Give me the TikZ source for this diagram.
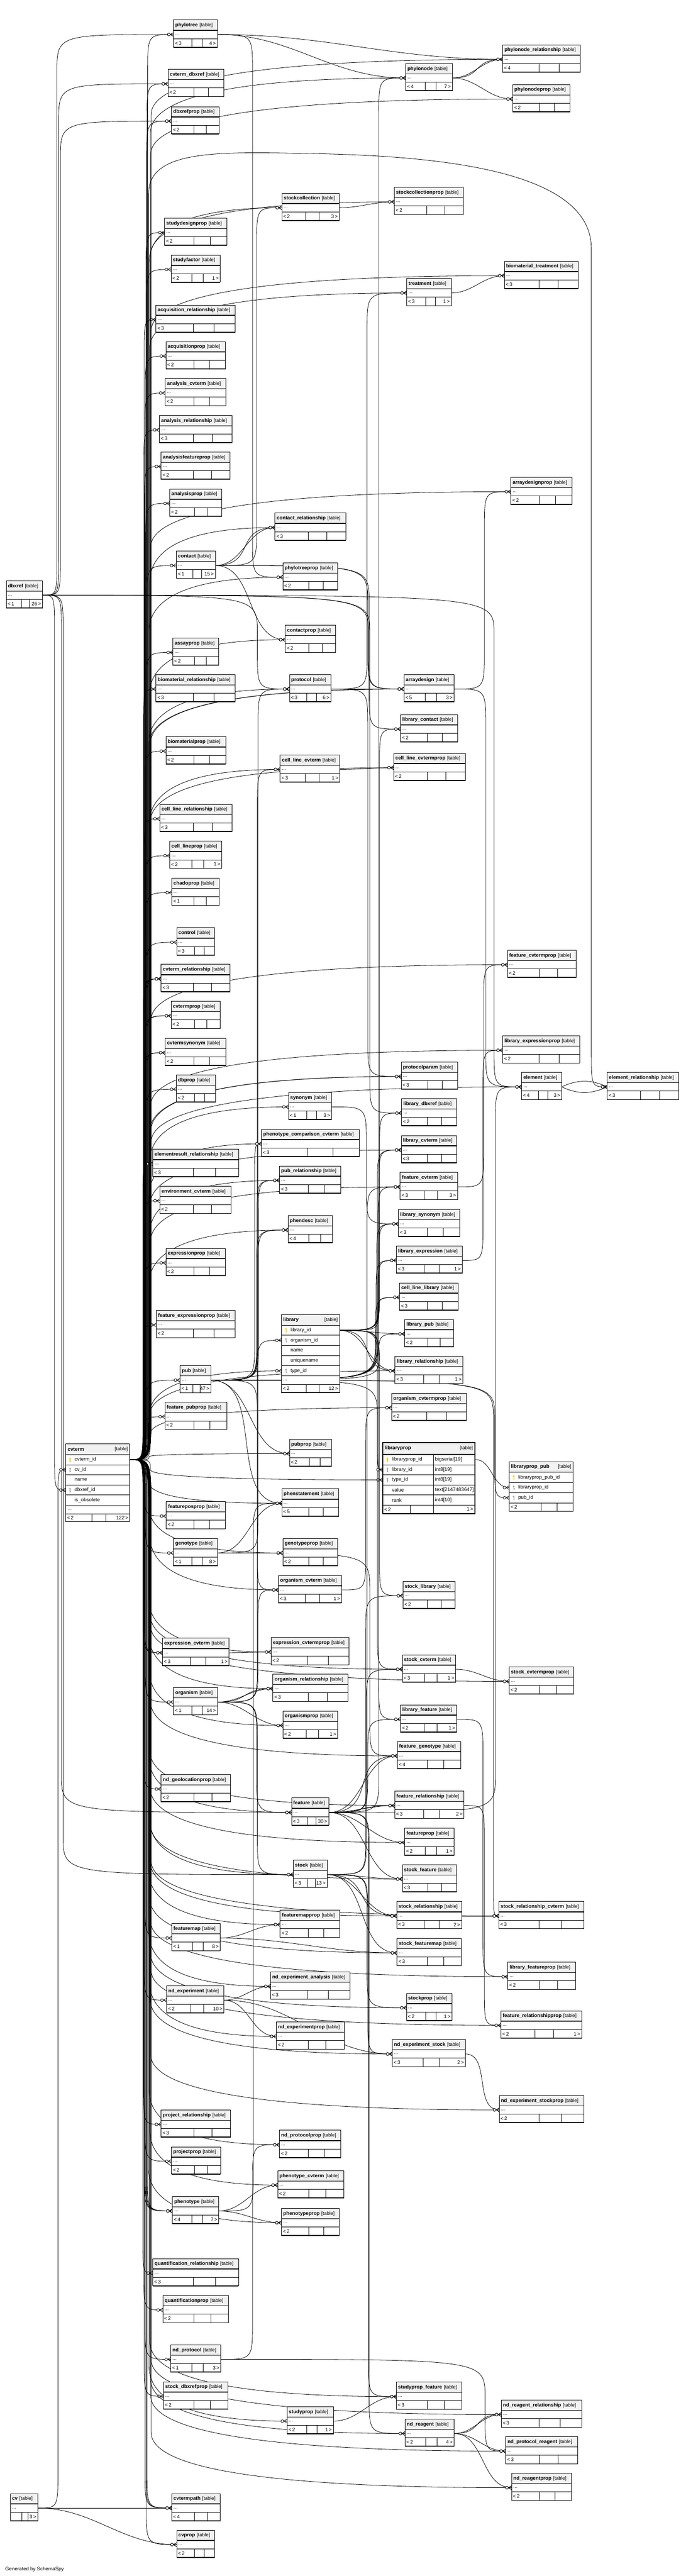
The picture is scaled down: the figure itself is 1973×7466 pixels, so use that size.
\documentclass[tikz,border=0pt]{standalone}
\usepackage{fontspec}
\setmainfont{Liberation Sans}
\usetikzlibrary{calc}
\definecolor{hdrgray}{RGB}{242,242,242}
\definecolor{pkyellow}{RGB}{238,205,0}
\definecolor{fkgray}{RGB}{165,165,165}
\pgfdeclarelayer{bg}
\pgfdeclarelayer{edges}
\pgfsetlayers{bg,edges,main}
\tikzset{
  fkline/.style={line width=1.2pt,black},
  cellline/.style={line width=1.1pt,black},
  hdrline/.style={line width=2pt,black},
  botline/.style={line width=2.4pt,black},
  txt/.style={anchor=west,inner sep=0pt},
  txe/.style={anchor=east,inner sep=0pt}
}
\newcommand\tbfont{\fontsize{14.5}{17}\selectfont}
\newcommand\tbsmall{\fontsize{14}{16}\selectfont}
% compact table: name, x, y, width, parents, children
\newcommand\schtbl[6]{%
  \if\relax\detokenize{#6}\relax\def\tbsa{0.47}\def\tbsb{0.73}\else\def\tbsa{0.42}\def\tbsb{0.65}\fi
  \fill[white] (#2,#3) rectangle ++(#4,79);
  \fill[hdrgray] (#2,#3) rectangle ++(#4,30);
  \draw[cellline] (#2,#3) rectangle ++(#4,79);
  \draw[hdrline] (#2,#3+30) -- ++(#4,0);
  \draw[cellline] (#2,#3+54) -- ++(#4,0);
  \draw[botline] (#2,#3+79) -- ++(#4,0);
  \draw[cellline] ({#2+\tbsa*#4},#3+54) -- ++(0,25);
  \draw[cellline] ({#2+\tbsb*#4},#3+54) -- ++(0,25);
  \node[txt] at (#2+5,#3+15.5) {\tbfont\textbf{\detokenize{#1}}\hspace{5pt}{\tbsmall[table]}};
  \node[txt] at (#2+5,#3+43) {\tbsmall...};
  \if\relax\detokenize{#5}\relax\else\node[txt] at (#2+4,#3+67) {\tbfont<\,#5};\fi
  \if\relax\detokenize{#6}\relax\else\node[txe] at (#2+#4-4,#3+67) {\tbfont#6\,>};\fi
  \coordinate (#1-w) at (#2,#3+42);
  \coordinate (#1-e) at (#2+#4,#3+42);
}
\newcommand\schkey[3]{%
  \fill[#3] (#1,#2-3.5) circle[radius=2.8pt];
  \fill[#3] (#1-1,#2-3.5) rectangle (#1+1,#2+7);
  \fill[#3] (#1+1,#2+3) rectangle (#1+3.5,#2+4.6);}
% crow's foot with circle at child port
\newcommand\mk[1]{%
  \draw[fkline] (#1) ++(-9,0) -- ++(9,-5.5);
  \draw[fkline] (#1) ++(-9,0) -- ++(9,5.5);
  \draw[fkline,fill=white] (#1) ++(-13.5,0) circle[radius=4pt];}
% edge routed through a vertical lane, short hook into the child
\newcommand\fk[3]{%
  \draw[fkline] let \p1=(#1),\p2=(#2),\p3=(#3,0),
     \n1={min(110,abs(\y2-\y1)/2)*sign(\y2-\y1)} in
     (\p1) .. controls (\x3,\y1) .. (\x3,{\y1+\n1}) -- (\x3,{\y2-\n1}) .. controls (\x3,\y2) .. (\p2);
  \mk{#2}}
% edge routed through a vertical lane, long sweep into a distant child
\newcommand\fkb[3]{%
  \draw[fkline] let \p1=(#1),\p2=(#2),\p3=(#3,0),
     \n1={min(160,abs(\y2-\y1)/2)*sign(\y2-\y1)},
     \n2={(\x2-\x3)*0.45} in
     (\p1) .. controls (\x3,\y1) .. (\x3,{\y1+\n1}) -- (\x3,{\y2-\n1})
     .. controls (\x3,{\y2-0.15*\n1}) and ({\x2-\n2},\y2) .. (\p2);
  \mk{#2}}
% direct edge
\newcommand\fd[2]{\draw[fkline] (#1) to[out=0,in=180] (#2); \mk{#2}}
\newcommand\fdl[3]{\draw[fkline] (#1) to[out=0,in=180,looseness=#3] (#2); \mk{#2}}

\begin{document}
\begin{tikzpicture}[x=1pt,y=-1pt]
\useasboundingbox (0,0) rectangle (1973,7466);
\begin{pgfonlayer}{bg}
\fill[white] (0,0) rectangle (1973,7466);
\end{pgfonlayer}

% ---------------- left column
\schtbl{phylotree}{503}{58}{127}{3}{4}
\schtbl{cvterm_dbxref}{487}{201}{161}{2}{}
\schtbl{dbxrefprop}{497}{309}{138}{2}{}
\schtbl{studydesignprop}{477}{632}{181}{2}{}
\schtbl{studyfactor}{496}{739}{142}{2}{1}
\schtbl{acquisition_relationship}{452}{884}{230}{3}{}
\schtbl{acquisitionprop}{481}{990}{172}{2}{}
\schtbl{analysis_cvterm}{479}{1097}{175}{2}{}
\schtbl{analysis_relationship}{462}{1204}{210}{3}{}
\schtbl{analysisfeatureprop}{467}{1310}{200}{2}{}
\schtbl{analysisprop}{492}{1417}{151}{2}{}
\schtbl{contact}{511}{1597}{113}{1}{15}
\schtbl{dbxref}{18}{1683}{105}{1}{26}
\schtbl{assayprop}{501}{1849}{132}{2}{}
\schtbl{biomaterial_relationship}{452}{1955}{230}{3}{}
\schtbl{biomaterialprop}{481}{2135}{173}{2}{}
\schtbl{cell_line_relationship}{463}{2331}{209}{3}{}
\schtbl{cell_lineprop}{492}{2438}{151}{2}{1}
\schtbl{chadoprop}{498}{2545}{137}{1}{}
\schtbl{control}{512}{2689}{110}{3}{}
\schtbl{cvterm_relationship}{467}{2795}{200}{3}{}
\schtbl{cvtermprop}{496}{2902}{142}{2}{}
\schtbl{cvtermsynonym}{479}{3009}{175}{2}{}
\schtbl{dbprop}{511}{3115}{113}{2}{}
\schtbl{elementresult_relationship}{443}{3331}{249}{3}{}
\schtbl{environment_cvterm}{463}{3438}{206}{2}{}
\schtbl{expressionprop}{481}{3618}{172}{2}{}
\schtbl{feature_expressionprop}{453}{3798}{229}{2}{}
\schtbl{pub}{522}{3958}{89}{1}{47}
\schtbl{feature_pubprop}{478}{4064}{179}{2}{}
\schtbl{featureposprop}{482}{4352}{171}{2}{}
\schtbl{genotype}{503}{4459}{127}{1}{8}
\schtbl{expression_cvterm}{471}{4748}{193}{3}{1}
\schtbl{organism}{503}{4891}{127}{1}{14}
\schtbl{nd_geolocationprop}{467}{5143}{201}{2}{}
\schtbl{featuremap}{498}{5575}{140}{1}{8}
\schtbl{nd_experiment}{483}{5755}{166}{2}{10}
\schtbl{project_relationship}{467}{6115}{201}{3}{}
\schtbl{projectprop}{497}{6222}{142}{2}{}
\schtbl{phenotype}{500}{6366}{134}{4}{7}
\schtbl{quantification_relationship}{443}{6546}{249}{3}{}
\schtbl{quantificationprop}{472}{6653}{190}{2}{}
\schtbl{nd_protocol}{495}{6796}{145}{1}{3}
\schtbl{stock_dbxrefprop}{474}{6903}{186}{2}{}
\schtbl{cv}{30}{7227}{79}{}{3}
\schtbl{cvtermpath}{498}{7227}{140}{4}{}
\schtbl{cvprop}{512}{7333}{109}{2}{}
% ---------------- middle column
\schtbl{stockcollection}{817}{560}{166}{2}{3}
\schtbl{contact_relationship}{797}{1487}{205}{3}{}
\schtbl{phylotreeprop}{820}{1631}{159}{2}{}
\schtbl{contactprop}{827}{1812}{146}{2}{}
\schtbl{protocol}{839}{1955}{120}{3}{6}
\schtbl{cell_line_cvterm}{812}{2188}{173}{3}{1}
\schtbl{synonym}{836}{3166}{125}{1}{3}
\schtbl{phenotype_comparison_cvterm}{758}{3273}{283}{3}{}
\schtbl{pub_relationship}{810}{3379}{178}{3}{}
\schtbl{phendesc}{835}{3523}{129}{4}{}
\schtbl{pubprop}{839}{4171}{122}{2}{}
\schtbl{phenstatement}{817}{4315}{165}{5}{}
\schtbl{genotypeprop}{820}{4459}{159}{2}{}
\schtbl{organism_cvterm}{807}{4566}{183}{3}{1}
\schtbl{expression_cvtermprop}{786}{4746}{226}{2}{}
\schtbl{organism_relationship}{791}{4852}{217}{3}{}
\schtbl{organismprop}{820}{4959}{159}{2}{1}
\schtbl{feature}{845}{5211}{108}{3}{30}
\schtbl{stock}{850}{5391}{98}{3}{13}
\schtbl{featuremapprop}{812}{5536}{173}{2}{}
\schtbl{nd_experiment_analysis}{784}{5715}{230}{3}{}
\schtbl{nd_experimentprop}{801}{5860}{197}{2}{}
\schtbl{nd_protocolprop}{810}{6174}{178}{2}{}
\schtbl{phenotype_cvterm}{805}{6291}{191}{2}{}
\schtbl{phenotypeprop}{816}{6400}{167}{2}{}
\schtbl{studyprop}{832}{6975}{134}{2}{1}
% ---------------- third column
\schtbl{phylonode}{1176}{184}{135}{4}{7}
\schtbl{stockcollectionprop}{1143}{543}{200}{2}{}
\schtbl{treatment}{1179}{807}{129}{3}{1}
\schtbl{arraydesign}{1171}{1955}{145}{5}{3}
\schtbl{library_contact}{1161}{2071}{165}{2}{}
\schtbl{cell_line_cvtermprop}{1141}{2183}{208}{2}{}
\schtbl{protocolparam}{1163}{3078}{163}{3}{}
\schtbl{library_dbxref}{1164}{3184}{159}{2}{}
\schtbl{library_cvterm}{1163}{3291}{161}{3}{}
\schtbl{feature_cvterm}{1160}{3398}{166}{3}{3}
\schtbl{library_synonym}{1155}{3505}{178}{3}{}
\schtbl{library_expression}{1149}{3611}{191}{3}{1}
\schtbl{cell_line_library}{1158}{3718}{170}{3}{}
\schtbl{library_pub}{1173}{3824}{141}{2}{}
\schtbl{library_relationship}{1145}{3931}{197}{3}{1}
\schtbl{organism_cvtermprop}{1135}{4038}{217}{2}{}
\schtbl{stock_library}{1168}{4583}{151}{2}{}
\schtbl{stock_cvterm}{1166}{4796}{155}{3}{1}
\schtbl{library_feature}{1161}{4941}{163}{2}{1}
\schtbl{feature_genotype}{1152}{5047}{184}{4}{}
\schtbl{feature_relationship}{1144}{5191}{201}{3}{2}
\schtbl{featureprop}{1173}{5298}{143}{2}{1}
\schtbl{stock_feature}{1166}{5404}{157}{3}{}
\schtbl{stock_relationship}{1150}{5511}{188}{3}{2}
\schtbl{stock_featuremap}{1151}{5618}{186}{3}{}
\schtbl{stockprop}{1178}{5777}{132}{2}{1}
\schtbl{nd_experiment_stock}{1137}{5911}{212}{3}{2}
\schtbl{studyprop_feature}{1149}{6904}{189}{3}{}
\schtbl{nd_reagent}{1174}{7011}{142}{2}{4}
% ---------------- fourth column
\schtbl{phylonode_relationship}{1457}{130}{225}{4}{}
\schtbl{phylonodeprop}{1486}{245}{166}{2}{}
\schtbl{biomaterial_treatment}{1462}{757}{214}{3}{}
\schtbl{arraydesignprop}{1481}{1383}{177}{2}{}
\schtbl{feature_cvtermprop}{1471}{2754}{199}{2}{}
\schtbl{library_expressionprop}{1457}{3002}{224}{2}{}
\schtbl{element}{1512}{3108}{116}{4}{3}
\schtbl{stock_cvtermprop}{1476}{4831}{187}{2}{}
\schtbl{stock_relationship_cvterm}{1446}{5511}{247}{3}{}
\schtbl{library_featureprop}{1472}{5687}{197}{2}{}
\schtbl{feature_relationshipprop}{1452}{5828}{234}{2}{1}
\schtbl{nd_experiment_stockprop}{1447}{6073}{246}{2}{}
\schtbl{nd_reagent_relationship}{1453}{6956}{233}{3}{}
\schtbl{nd_protocol_reagent}{1466}{7062}{208}{3}{}
\schtbl{nd_reagentprop}{1483}{7168}{173}{2}{}
\schtbl{element_relationship}{1760}{3108}{207}{3}{}

% ---------------- cvterm (expanded)
\fill[white] (190,4185) rectangle (376,4410);
\fill[hdrgray] (190,4185) rectangle (376,4216);
\draw[cellline] (190,4185) rectangle (376,4410);
\draw[hdrline] (190,4216) -- (376,4216);
\foreach \yy in {4245,4274,4304,4333,4363,4387} {\draw[cellline] (190,\yy) -- (376,\yy);}
\draw[botline] (190,4410) -- (376,4410);
\draw[cellline] (266,4387) -- (266,4410) (307,4387) -- (307,4410);
\node[txt] at (196,4200.5) {\tbfont\textbf{cvterm}};
\node[txe] at (371,4200.5) {\tbsmall[table]};
\schkey{203}{4230.5}{pkyellow}
\node[txt] at (216,4230.5) {\tbfont cvterm\_id};
\schkey{203}{4259.5}{fkgray}
\node[txt] at (216,4259.5) {\tbfont cv\_id};
\node[txt] at (216,4289) {\tbfont name};
\schkey{203}{4318.5}{fkgray}
\node[txt] at (216,4318.5) {\tbfont dbxref\_id};
\node[txt] at (216,4348) {\tbfont is\_obsolete};
\node[txt] at (196,4375) {\tbsmall...};
\node[txt] at (194,4398.5) {\tbfont<\,2};
\node[txe] at (372,4398.5) {\tbfont 122\,>};
\coordinate (cvterm-e) at (376,4230.5);
\coordinate (cvterm-cv) at (190,4259.5);
\coordinate (cvterm-dbx) at (190,4318.5);

% ---------------- library (expanded)
\fill[white] (816,3810) rectangle (984,4036);
\fill[hdrgray] (816,3810) rectangle (984,3841);
\draw[cellline] (816,3810) rectangle (984,4036);
\draw[hdrline] (816,3841) -- (984,3841);
\foreach \yy in {3870,3899,3929,3958,3988,4012} {\draw[cellline] (816,\yy) -- (984,\yy);}
\draw[botline] (816,4036) -- (984,4036);
\draw[cellline] (888,4012) -- (888,4036) (925,4012) -- (925,4036);
\node[txt] at (821,3825.5) {\tbfont\textbf{library}};
\node[txe] at (979,3825.5) {\tbsmall[table]};
\schkey{829}{3855.5}{pkyellow}
\node[txt] at (842,3855.5) {\tbfont library\_id};
\schkey{829}{3884.5}{fkgray}
\node[txt] at (842,3884.5) {\tbfont organism\_id};
\node[txt] at (842,3914) {\tbfont name};
\node[txt] at (842,3943.5) {\tbfont uniquename};
\schkey{829}{3973}{fkgray}
\node[txt] at (842,3973) {\tbfont type\_id};
\node[txt] at (821,4000) {\tbsmall...};
\node[txt] at (820,4024) {\tbfont<\,2};
\node[txe] at (980,4024) {\tbfont 12\,>};
\coordinate (library-e) at (984,3855.5);
\coordinate (library-org) at (816,3884.5);
\coordinate (library-type) at (816,3973);

% ---------------- libraryprop (expanded, focus)
\fill[white] (1109,4181) rectangle (1377,4387);
\fill[hdrgray] (1109,4181) rectangle (1377,4215);
\draw[hdrline] (1109,4215) -- (1377,4215);
\foreach \yy in {4245,4274,4304,4333,4362} {\draw[cellline] (1109,\yy) -- (1377,\yy);}
\draw[cellline] (1256,4215) -- (1256,4387);
\draw[cellline] (1189,4362) -- (1189,4387);
\draw[line width=3pt] (1109,4181) rectangle (1377,4387);
\node[txt] at (1115,4198) {\tbfont\textbf{libraryprop}};
\node[txe] at (1371,4198) {\tbsmall[table]};
\schkey{1123}{4230}{pkyellow}
\node[txt] at (1136,4230) {\tbfont libraryprop\_id};
\node[txt] at (1261,4230) {\tbfont bigserial[19]};
\schkey{1123}{4259.5}{fkgray}
\node[txt] at (1136,4259.5) {\tbfont library\_id};
\node[txt] at (1261,4259.5) {\tbfont int8[19]};
\schkey{1123}{4289}{fkgray}
\node[txt] at (1136,4289) {\tbfont type\_id};
\node[txt] at (1261,4289) {\tbfont int8[19]};
\node[txt] at (1136,4318.5) {\tbfont value};
\node[txt] at (1261,4318.5) {\tbfont text[2147483647]};
\node[txt] at (1136,4347.5) {\tbfont rank};
\node[txt] at (1261,4347.5) {\tbfont int4[10]};
\node[txt] at (1114,4374.5) {\tbfont<\,2};
\node[txe] at (1372,4374.5) {\tbfont 1\,>};
\coordinate (libraryprop-e) at (1377,4230);
\coordinate (libraryprop-lib) at (1109,4259.5);
\coordinate (libraryprop-type) at (1109,4289);

% ---------------- libraryprop_pub (expanded)
\fill[white] (1476,4236) rectangle (1661,4380);
\fill[hdrgray] (1476,4236) rectangle (1661,4267);
\draw[cellline] (1476,4236) rectangle (1661,4380);
\draw[hdrline] (1476,4267) -- (1661,4267);
\foreach \yy in {4297,4326,4356} {\draw[cellline] (1476,\yy) -- (1661,\yy);}
\draw[botline] (1476,4380) -- (1661,4380);
\draw[cellline] (1569,4356) -- (1569,4380) (1615,4356) -- (1615,4380);
\node[txt] at (1481,4251.5) {\tbfont\textbf{libraryprop\_pub}};
\node[txe] at (1656,4251.5) {\tbsmall[table]};
\schkey{1489}{4282}{pkyellow}
\node[txt] at (1502,4282) {\tbfont libraryprop\_pub\_id};
\schkey{1489}{4311.5}{fkgray}
\node[txt] at (1502,4311.5) {\tbfont libraryprop\_id};
\schkey{1489}{4341}{fkgray}
\node[txt] at (1502,4341) {\tbfont pub\_id};
\node[txt] at (1480,4368) {\tbfont<\,2};
\coordinate (libraryprop_pub-lp) at (1476,4311.5);
\coordinate (libraryprop_pub-pub) at (1476,4341);

\node[txt] at (15,7446) {\tbfont Generated by SchemaSpy};

% ================= connectors
\begin{pgfonlayer}{edges}
% cvterm -> left column
\foreach \tnm/\lnx in {phylotree/428,cvterm_dbxref/426,dbxrefprop/425,studydesignprop/423,studyfactor/424,acquisition_relationship/418,acquisitionprop/421,analysis_cvterm/420,analysis_relationship/417,analysisfeatureprop/419,analysisprop/422,contact/424,assayprop/423,biomaterial_relationship/416,biomaterialprop/420,cell_line_relationship/417,cell_lineprop/421,chadoprop/422,control/423,cvterm_relationship/415,cvterm_relationship/419,cvterm_relationship/423,cvtermprop/418,cvtermprop/422,cvtermsynonym/417,cvtermsynonym/421,dbprop/422,elementresult_relationship/414,environment_cvterm/416,expressionprop/419,feature_expressionprop/415,pub/420,feature_pubprop/418,featureposprop/419,genotype/421,expression_cvterm/415,expression_cvterm/419,organism/421,nd_geolocationprop/417,featuremap/420,nd_experiment/418,project_relationship/416,projectprop/420,phenotype/418,phenotype/421,phenotype/424,phenotype/427,quantification_relationship/414,quantificationprop/417,nd_protocol/420,stock_dbxrefprop/418,cvtermpath/420,cvtermpath/423,cvtermpath/426,cvprop/424}
  {\fk{cvterm-e}{\tnm-w}{\lnx}}
% cvterm -> middle, third and fourth columns (through the left bundle)
\foreach \tnm/\lnx in {stockcollection/432,contact_relationship/434,phylotreeprop/431,contactprop/433,protocol/430,cell_line_cvterm/432,synonym/434,phenotype_comparison_cvterm/430,pub_relationship/433,phendesc/431,pubprop/432,phenstatement/430,genotypeprop/432,organism_cvterm/434,expression_cvtermprop/430,organism_relationship/431,organismprop/433,feature/432,stock/434,featuremapprop/430,nd_experiment_analysis/431,nd_experimentprop/433,nd_protocolprop/432,phenotype_cvterm/434,phenotypeprop/430,studyprop/432,
  phylonode/436,stockcollectionprop/435,treatment/434,arraydesign/433,arraydesign/436,cell_line_cvtermprop/435,protocolparam/434,protocolparam/437,library_cvterm/435,feature_cvterm/436,library_relationship/434,organism_cvtermprop/436,stock_cvterm/435,feature_genotype/436,feature_relationship/434,featureprop/435,stock_feature/436,stock_relationship/435,stock_featuremap/434,stockprop/436,nd_experiment_stock/435,studyprop_feature/434,nd_reagent/436,
  phylonode_relationship/438,phylonodeprop/437,biomaterial_treatment/438,arraydesignprop/437,feature_cvtermprop/438,library_expressionprop/437,element/438,stock_cvtermprop/437,stock_relationship_cvterm/438,library_featureprop/437,feature_relationshipprop/438,nd_experiment_stockprop/437,nd_reagent_relationship/438,nd_protocol_reagent/437,nd_reagentprop/438}
  {\fkb{cvterm-e}{\tnm-w}{\lnx}}
\fkb{cvterm-e}{library-type}{433}
\fkb{cvterm-e}{libraryprop-type}{436}
% cvterm -> element_relationship (long route over the top)
\draw[fkline] (cvterm-e) .. controls (431,4230.5) .. (431,4120) -- (431,560)
  .. controls (431,432) and (640,440) .. (900,445)
  .. controls (1300,452) and (1714,500) .. (1714,720) -- (1714,3040)
  .. controls (1714,3150) .. (element_relationship-w);
\mk{element_relationship-w}

% dbxref
\fk{dbxref-e}{phylotree-w}{165}
\fk{dbxref-e}{cvterm_dbxref-w}{170}
\fk{dbxref-e}{dbxrefprop-w}{175}
\fk{dbxref-e}{cvterm-dbx}{158}
\fk{dbxref-e}{protocol-w}{746}
\fk{dbxref-e}{arraydesign-w}{1068}
\fk{dbxref-e}{library_dbxref-w}{1072}
\fk{dbxref-e}{element-w}{1432}
\fk{dbxref-e}{feature-w}{178}
\fk{dbxref-e}{stock-w}{183}
% cv
\fk{cv-e}{cvterm-cv}{168}
\draw[fkline] (cv-e) -- (cvtermpath-w); \mk{cvtermpath-w}
\fd{cv-e}{cvprop-w}
% organism
\fk{organism-e}{library-org}{746}
\fk{organism-e}{organism_cvterm-w}{748}
\fd{organism-e}{organism_relationship-w}
\fdl{organism-e}{organism_relationship-w}{1.5}
\fd{organism-e}{organismprop-w}
\fk{organism-e}{feature-w}{744}
\fk{organism-e}{stock-w}{746}
% pub
\fk{pub-e}{protocol-w}{748}
\fk{pub-e}{cell_line_cvterm-w}{746}
\fk{pub-e}{phenotype_comparison_cvterm-w}{738}
\fk{pub-e}{pub_relationship-w}{745}
\fk{pub-e}{pub_relationship-w}{749}
\fk{pub-e}{phendesc-w}{744}
\fd{pub-e}{pubprop-w}
\fd{pub-e}{phenstatement-w}
\fk{pub-e}{organism_cvterm-w}{746}
\fk{pub-e}{library_cvterm-w}{1094}
\fk{pub-e}{feature_cvterm-w}{1096}
\fk{pub-e}{library_synonym-w}{1092}
\fk{pub-e}{library_expression-w}{1090}
\fk{pub-e}{cell_line_library-w}{1088}
\fk{pub-e}{library_pub-w}{1098}
\fk{pub-e}{stock_cvterm-w}{1094}
\fk{pub-e}{libraryprop_pub-pub}{1434}
\fk{pub-e}{stock_relationship_cvterm-w}{1430}
% contact
\fd{contact-e}{contact_relationship-w}
\fdl{contact-e}{contact_relationship-w}{1.5}
\fd{contact-e}{contactprop-w}
\fk{contact-e}{stockcollection-w}{744}
\fk{contact-e}{arraydesign-w}{1066}
\fk{contact-e}{library_contact-w}{1070}
% phylotree / phylonode
\fd{phylotree-e}{phylonode-w}
\fd{phylotree-e}{phylonode_relationship-w}
\fk{phylotree-e}{phylotreeprop-w}{732}
\fd{phylonode-e}{phylonode_relationship-w}
\fdl{phylonode-e}{phylonode_relationship-w}{1.5}
\fd{phylonode-e}{phylonodeprop-w}
\fk{feature-e}{phylonode-w}{1098}
% misc upper
\fd{stockcollection-e}{stockcollectionprop-w}
\fd{treatment-e}{biomaterial_treatment-w}
\fk{protocol-e}{treatment-w}{1064}
\fd{protocol-e}{arraydesign-w}
\fk{protocol-e}{protocolparam-w}{1066}
\fk{arraydesign-e}{arraydesignprop-w}{1404}
\fk{arraydesign-e}{element-w}{1408}
\draw[fkline] (element-e) to[out=25,in=155] (element_relationship-w);
\draw[fkline] (element-e) to[out=-25,in=205] (element_relationship-w);
\mk{element_relationship-w}
\fd{cell_line_cvterm-e}{cell_line_cvtermprop-w}
% library
\fk{library-e}{library_contact-w}{1100}
\fk{library-e}{library_dbxref-w}{1100}
\fk{library-e}{library_cvterm-w}{1098}
\fk{library-e}{library_synonym-w}{1098}
\fk{library-e}{library_expression-w}{1096}
\fk{library-e}{cell_line_library-w}{1096}
\fd{library-e}{library_pub-w}
\fd{library-e}{library_relationship-w}
\fdl{library-e}{library_relationship-w}{1.5}
\fk{library-e}{libraryprop-lib}{1094}
\fk{library-e}{stock_library-w}{1100}
\fk{library-e}{library_feature-w}{1098}
\fk{synonym-e}{library_synonym-w}{1062}
\fk{feature_cvterm-e}{feature_cvtermprop-w}{1402}
\fk{library_expression-e}{library_expressionprop-w}{1400}
\fd{libraryprop-e}{libraryprop_pub-lp}
% genotype etc.
\fd{genotype-e}{genotypeprop-w}
\fk{genotype-e}{phendesc-w}{748}
\fd{genotype-e}{phenstatement-w}
\fk{genotype-e}{feature_genotype-w}{1072}
\fk{organism_cvterm-e}{organism_cvtermprop-w}{1060}
\fd{expression_cvterm-e}{expression_cvtermprop-w}
\fd{stock_cvterm-e}{stock_cvtermprop-w}
\fk{library_feature-e}{library_featureprop-w}{1400}
% feature
\fk{feature-e}{element-w}{1436}
\fk{feature-e}{feature_cvterm-w}{1064}
\fk{feature-e}{library_feature-w}{1066}
\fd{feature-e}{feature_genotype-w}
\fdl{feature-e}{feature_genotype-w}{1.5}
\fd{feature-e}{feature_relationship-w}
\fdl{feature-e}{feature_relationship-w}{1.5}
\fd{feature-e}{featureprop-w}
\fd{feature-e}{stock_feature-w}
\fk{feature-e}{studyprop_feature-w}{1068}
\fk{feature-e}{nd_reagent-w}{1070}
\fk{feature_relationship-e}{feature_relationshipprop-w}{1404}
% stock
\fk{stock-e}{stock_library-w}{1060}
\fk{stock-e}{stock_cvterm-w}{1062}
\fd{stock-e}{stock_feature-w}
\fd{stock-e}{stock_relationship-w}
\fdl{stock-e}{stock_relationship-w}{1.5}
\fd{stock-e}{stock_featuremap-w}
\fk{stock-e}{stockprop-w}{1064}
\fk{stock-e}{nd_experiment_stock-w}{1066}
\fd{stock_relationship-e}{stock_relationship_cvterm-w}
% featuremap / nd_experiment
\fd{featuremap-e}{featuremapprop-w}
\fd{featuremap-e}{stock_featuremap-w}
\fd{nd_experiment-e}{nd_experiment_analysis-w}
\fd{nd_experiment-e}{nd_experimentprop-w}
\fd{nd_experiment-e}{nd_experiment_stock-w}
\fd{nd_experiment_stock-e}{nd_experiment_stockprop-w}
% nd_protocol / phenotype / study / reagent
\fk{nd_protocol-e}{nd_protocolprop-w}{732}
\fk{nd_protocol-e}{nd_protocol_reagent-w}{1406}
\fd{phenotype-e}{phenotype_cvterm-w}
\fd{phenotype-e}{phenotypeprop-w}
\fk{phenotype-e}{phenstatement-w}{734}
\fd{studyprop-e}{studyprop_feature-w}
\fd{nd_reagent-e}{nd_reagent_relationship-w}
\fdl{nd_reagent-e}{nd_reagent_relationship-w}{1.5}
\fd{nd_reagent-e}{nd_protocol_reagent-w}
\fd{nd_reagent-e}{nd_reagentprop-w}
\end{pgfonlayer}
\end{tikzpicture}
\end{document}
